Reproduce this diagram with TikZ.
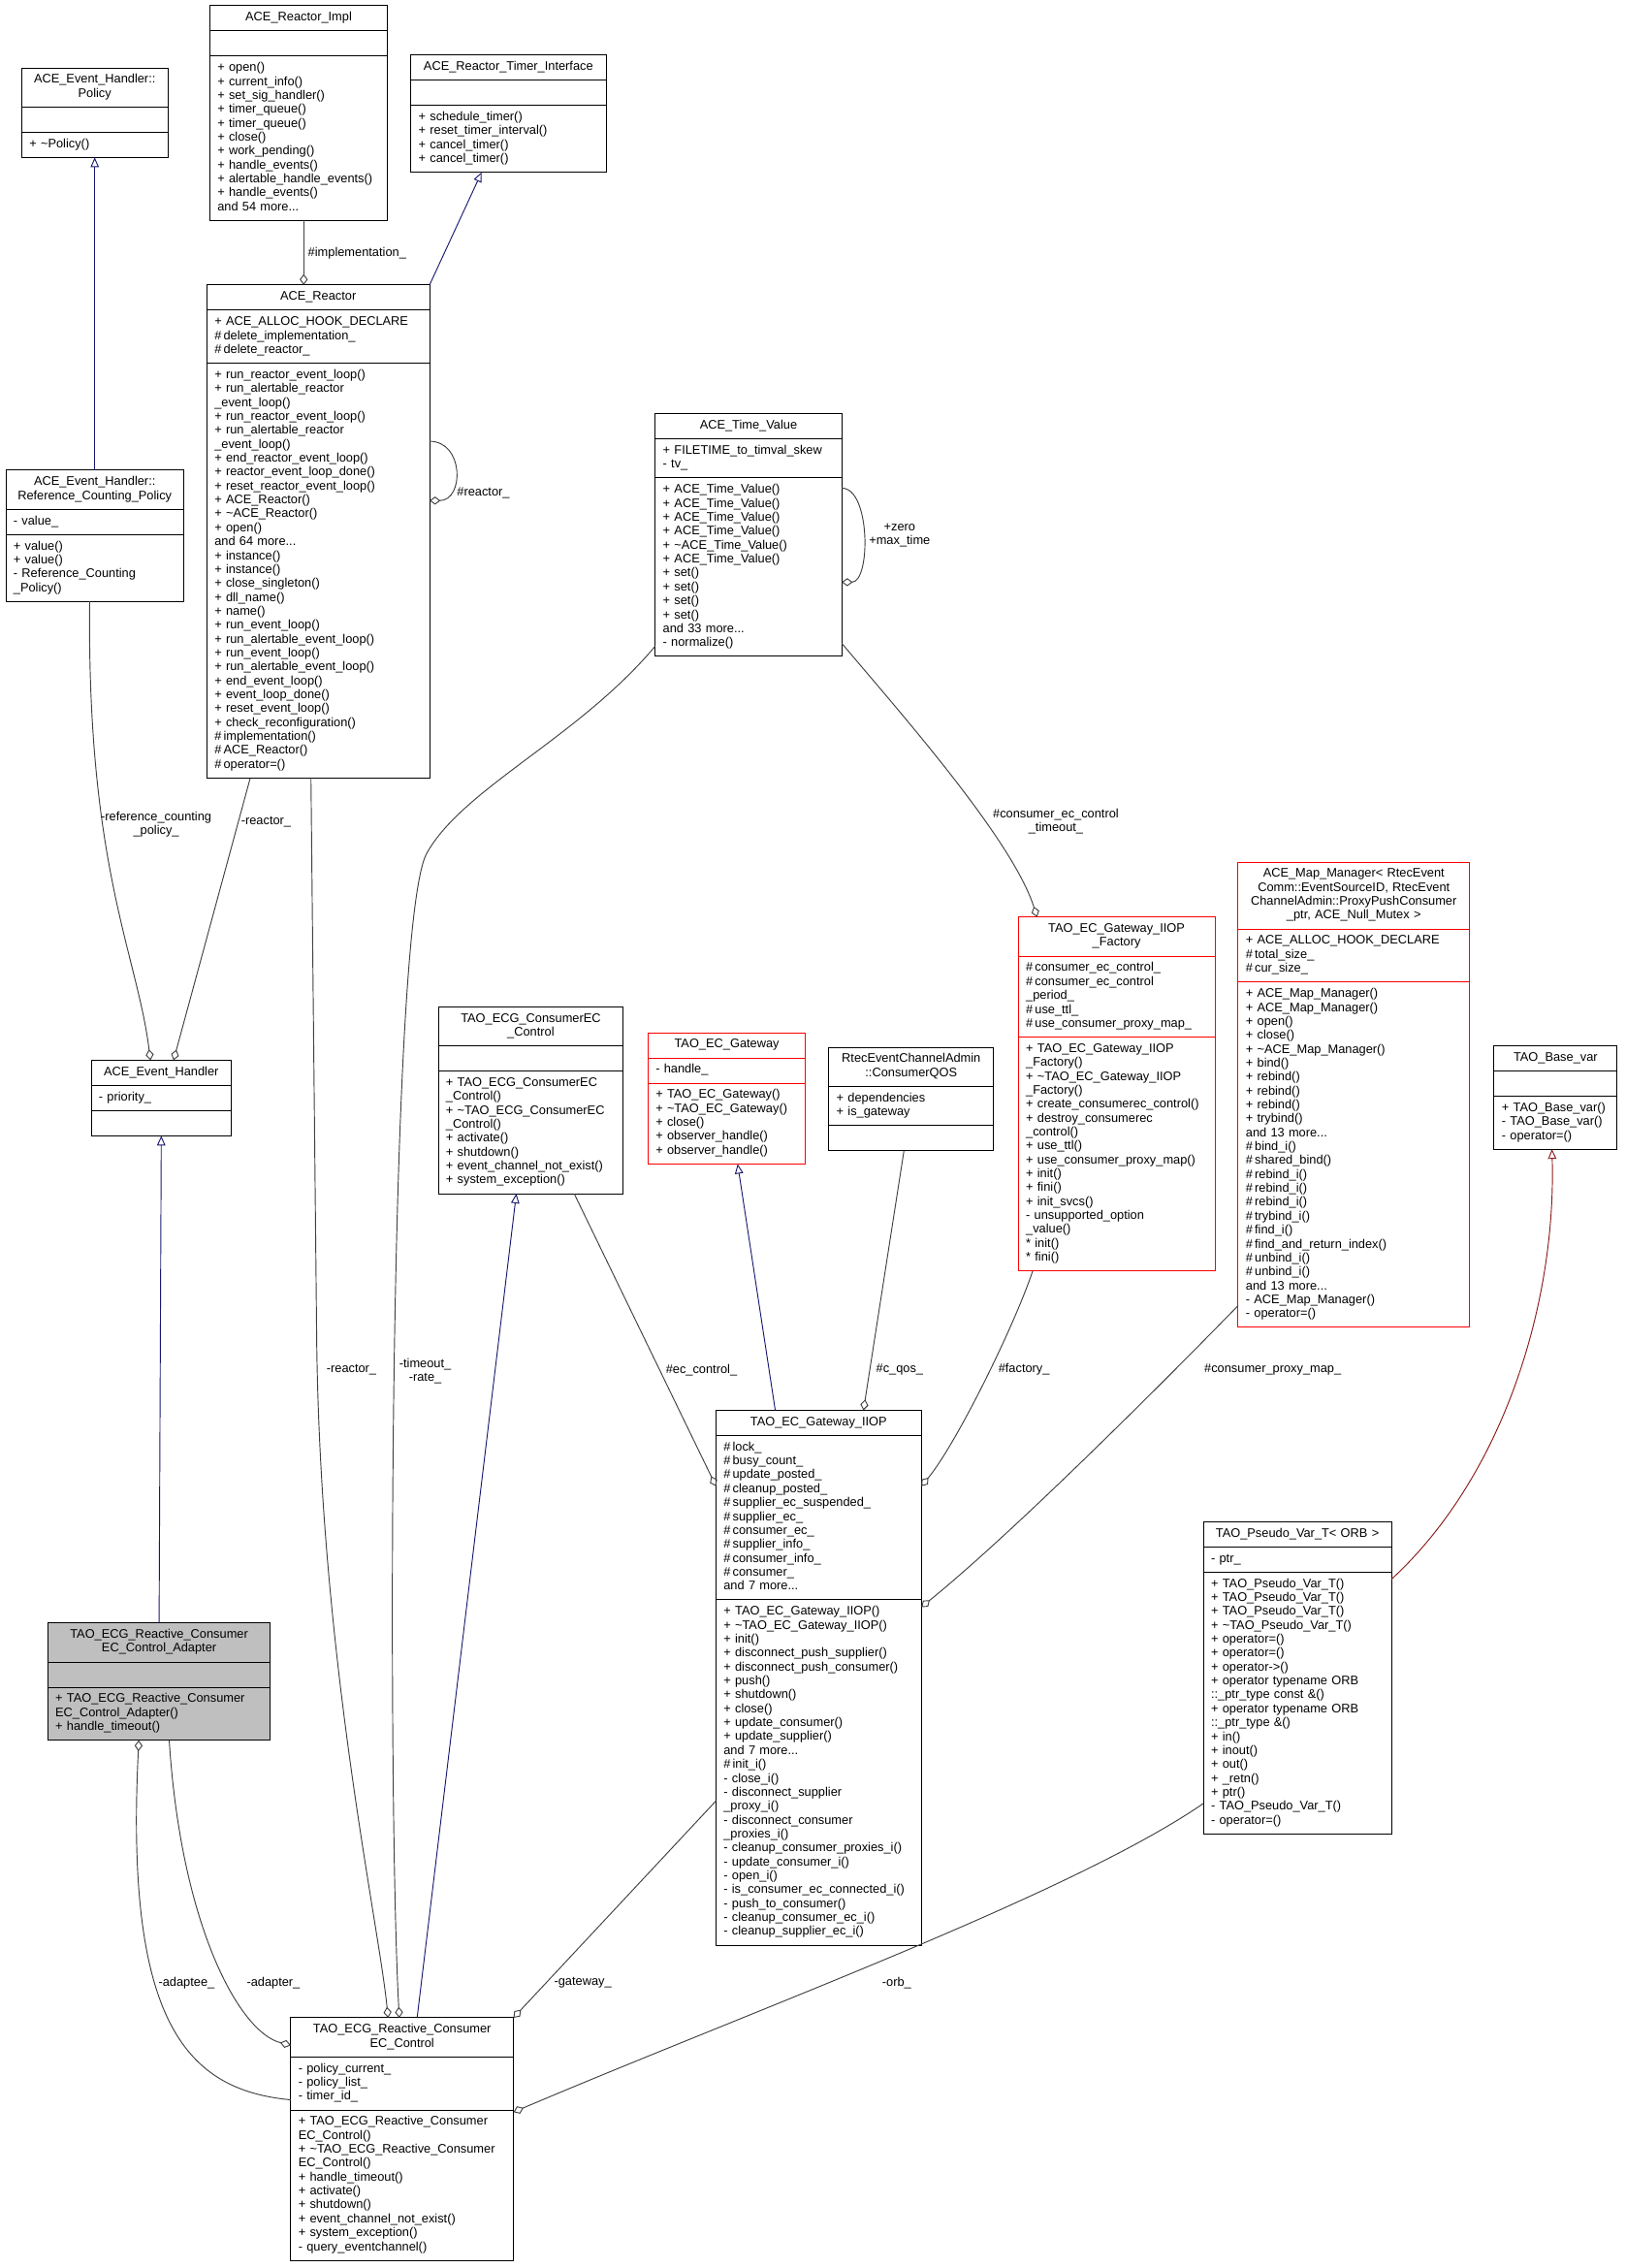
\documentclass[tikz,border=0pt]{standalone}
\usepackage{fontspec}
\setmainfont{Liberation Sans}
\usetikzlibrary{arrows.meta,positioning,calc}
\definecolor{HierBlue}{HTML}{191970}
\definecolor{HierRed}{HTML}{8B1A1A}
\definecolor{UseGray}{HTML}{404040}
\definecolor{BoxRed}{HTML}{FF0000}
\definecolor{AdapterGray}{HTML}{BFBFBF}

\begin{document}
\begin{tikzpicture}[
  x=0.45mm, y=-0.45mm,
  every node/.style={font=\fontsize{11}{12.32}\selectfont, inner sep=0pt, outer sep=0pt},
  cname/.style={draw, line width=0.8pt, fill=white, align=center,
    inner xsep=2.4mm, inner ysep=1.755mm,
    execute at begin node=\strut, execute at end node=\strut},
  cbody/.style={cname, align=left},
  hot/.style={draw=BoxRed},
  hier/.style={-{Triangle[open,length=3mm,width=2.6mm]}, line width=0.8pt, draw=HierBlue},
  uses/.style={-{Diamond[open,length=3.4mm,width=2.5mm]}, line width=0.8pt, draw=UseGray},
  tag/.style={align=center}
]
  \useasboundingbox[fill=white] (0,0) rectangle (1124,1568);

  % top row
  \node[cname, text width=40.65mm, anchor=north] (policy) at (65.5,47) {ACE\_Event\_Handler::\\Policy};
  \node[cbody, text width=40.65mm, below=0pt of policy] (policy-a) {};
  \node[cbody, text width=40.65mm, below=0pt of policy-a] (policy-m) {+ \textasciitilde Policy()};

  \node[cname, text width=50.55mm, anchor=north] (impl) at (206.5,4) {ACE\_Reactor\_Impl};
  \node[cbody, text width=50.55mm, below=0pt of impl] (impl-a) {};
  \node[cbody, text width=50.55mm, below=0pt of impl-a] (impl-m) {+ open()\\+ current\_info()\\+ set\_sig\_handler()\\+ timer\_queue()\\+ timer\_queue()\\+ close()\\+ work\_pending()\\+ handle\_events()\\+ alertable\_handle\_events()\\+ handle\_events()\\and 54 more...};

  \node[cname, text width=55.95mm, anchor=north] (timer) at (351.5,38) {ACE\_Reactor\_Timer\_Interface};
  \node[cbody, text width=55.95mm, below=0pt of timer] (timer-a) {};
  \node[cbody, text width=55.95mm, below=0pt of timer-a] (timer-m) {+ schedule\_timer()\\+ reset\_timer\_interval()\\+ cancel\_timer()\\+ cancel\_timer()};

  \node[cname, text width=64.5mm, anchor=north] (reactor) at (220,197) {ACE\_Reactor};
  \node[cbody, text width=64.5mm, below=0pt of reactor] (reactor-a) {+ ACE\_ALLOC\_HOOK\_DECLARE\\\#\,delete\_implementation\_\\\#\,delete\_reactor\_};
  \node[cbody, text width=64.5mm, below=0pt of reactor-a] (reactor-m) {+ run\_reactor\_event\_loop()\\+ run\_alertable\_reactor\\\_event\_loop()\\+ run\_reactor\_event\_loop()\\+ run\_alertable\_reactor\\\_event\_loop()\\+ end\_reactor\_event\_loop()\\+ reactor\_event\_loop\_done()\\+ reset\_reactor\_event\_loop()\\+ ACE\_Reactor()\\+ \textasciitilde ACE\_Reactor()\\+ open()\\and 64 more...\\+ instance()\\+ instance()\\+ close\_singleton()\\+ dll\_name()\\+ name()\\+ run\_event\_loop()\\+ run\_alertable\_event\_loop()\\+ run\_event\_loop()\\+ run\_alertable\_event\_loop()\\+ end\_event\_loop()\\+ event\_loop\_done()\\+ reset\_event\_loop()\\+ check\_reconfiguration()\\\#\,implementation()\\\#\,ACE\_Reactor()\\\#\,operator=()};

  \node[cname, text width=50.55mm, anchor=north] (refc) at (65.5,325) {ACE\_Event\_Handler::\\Reference\_Counting\_Policy};
  \node[cbody, text width=50.55mm, below=0pt of refc] (refc-a) {- value\_};
  \node[cbody, text width=50.55mm, below=0pt of refc-a] (refc-m) {+ value()\\+ value()\\- Reference\_Counting\\\_Policy()};

  \node[cname, text width=53.25mm, anchor=north] (tval) at (517.5,286) {ACE\_Time\_Value};
  \node[cbody, text width=53.25mm, below=0pt of tval] (tval-a) {+ FILETIME\_to\_timval\_skew\\- tv\_};
  \node[cbody, text width=53.25mm, below=0pt of tval-a] (tval-m) {+ ACE\_Time\_Value()\\+ ACE\_Time\_Value()\\+ ACE\_Time\_Value()\\+ ACE\_Time\_Value()\\+ \textasciitilde ACE\_Time\_Value()\\+ ACE\_Time\_Value()\\+ set()\\+ set()\\+ set()\\+ set()\\and 33 more...\\- normalize()};

  % middle row
  \node[cname, text width=38.85mm, anchor=north] (evh) at (111.5,733) {ACE\_Event\_Handler};
  \node[cbody, text width=38.85mm, below=0pt of evh] (evh-a) {- priority\_};
  \node[cbody, text width=38.85mm, below=0pt of evh-a] (evh-m) {};

  \node[cname, text width=52.8mm, anchor=north] (cec) at (367,696) {TAO\_ECG\_ConsumerEC\\\_Control};
  \node[cbody, text width=52.8mm, below=0pt of cec] (cec-a) {};
  \node[cbody, text width=52.8mm, below=0pt of cec-a] (cec-m) {+ TAO\_ECG\_ConsumerEC\\\_Control()\\+ \textasciitilde TAO\_ECG\_ConsumerEC\\\_Control()\\+ activate()\\+ shutdown()\\+ event\_channel\_not\_exist()\\+ system\_exception()};

  \node[cname, hot, text width=44.25mm, anchor=north] (ecgw) at (502.5,714) {TAO\_EC\_Gateway};
  \node[cbody, hot, text width=44.25mm, below=0pt of ecgw] (ecgw-a) {- handle\_};
  \node[cbody, hot, text width=44.25mm, below=0pt of ecgw-a] (ecgw-m) {+ TAO\_EC\_Gateway()\\+ \textasciitilde TAO\_EC\_Gateway()\\+ close()\\+ observer\_handle()\\+ observer\_handle()};

  \node[cname, text width=46.5mm, anchor=north] (qos) at (630,724) {RtecEventChannelAdmin\\::ConsumerQOS};
  \node[cbody, text width=46.5mm, below=0pt of qos] (qos-a) {+ dependencies\\+ is\_gateway};
  \node[cbody, text width=46.5mm, below=0pt of qos-a] (qos-m) {};

  \node[cname, hot, text width=56.4mm, anchor=north] (fac) at (772,634) {TAO\_EC\_Gateway\_IIOP\\\_Factory};
  \node[cbody, hot, text width=56.4mm, below=0pt of fac] (fac-a) {\#\,consumer\_ec\_control\_\\\#\,consumer\_ec\_control\\\_period\_\\\#\,use\_ttl\_\\\#\,use\_consumer\_proxy\_map\_};
  \node[cbody, hot, text width=56.4mm, below=0pt of fac-a] (fac-m) {+ TAO\_EC\_Gateway\_IIOP\\\_Factory()\\+ \textasciitilde TAO\_EC\_Gateway\_IIOP\\\_Factory()\\+ create\_consumerec\_control()\\+ destroy\_consumerec\\\_control()\\+ use\_ttl()\\+ use\_consumer\_proxy\_map()\\+ init()\\+ fini()\\+ init\_svcs()\\- unsupported\_option\\\_value()\\{}* init()\\{}* fini()};

  \node[cname, hot, text width=67.2mm, anchor=north] (mapmgr) at (936,596) {ACE\_Map\_Manager< RtecEvent\\Comm::EventSourceID, RtecEvent\\ChannelAdmin::ProxyPushConsumer\\\_ptr, ACE\_Null\_Mutex >};
  \node[cbody, hot, text width=67.2mm, below=0pt of mapmgr] (mapmgr-a) {+ ACE\_ALLOC\_HOOK\_DECLARE\\\#\,total\_size\_\\\#\,cur\_size\_};
  \node[cbody, hot, text width=67.2mm, below=0pt of mapmgr-a] (mapmgr-m) {+ ACE\_Map\_Manager()\\+ ACE\_Map\_Manager()\\+ open()\\+ close()\\+ \textasciitilde ACE\_Map\_Manager()\\+ bind()\\+ rebind()\\+ rebind()\\+ rebind()\\+ trybind()\\and 13 more...\\\#\,bind\_i()\\\#\,shared\_bind()\\\#\,rebind\_i()\\\#\,rebind\_i()\\\#\,rebind\_i()\\\#\,trybind\_i()\\\#\,find\_i()\\\#\,find\_and\_return\_index()\\\#\,unbind\_i()\\\#\,unbind\_i()\\and 13 more...\\- ACE\_Map\_Manager()\\- operator=()};

  \node[cname, text width=33.45mm, anchor=north] (basevar) at (1075.5,723) {TAO\_Base\_var};
  \node[cbody, text width=33.45mm, below=0pt of basevar] (basevar-a) {};
  \node[cbody, text width=33.45mm, below=0pt of basevar-a] (basevar-m) {+ TAO\_Base\_var()\\- TAO\_Base\_var()\\- operator=()};

  % lower row
  \node[cname, text width=59.1mm, anchor=north] (iiop) at (566,975) {TAO\_EC\_Gateway\_IIOP};
  \node[cbody, text width=59.1mm, below=0pt of iiop] (iiop-a) {\#\,lock\_\\\#\,busy\_count\_\\\#\,update\_posted\_\\\#\,cleanup\_posted\_\\\#\,supplier\_ec\_suspended\_\\\#\,supplier\_ec\_\\\#\,consumer\_ec\_\\\#\,supplier\_info\_\\\#\,consumer\_info\_\\\#\,consumer\_\\and 7 more...};
  \node[cbody, text width=59.1mm, below=0pt of iiop-a] (iiop-m) {+ TAO\_EC\_Gateway\_IIOP()\\+ \textasciitilde TAO\_EC\_Gateway\_IIOP()\\+ init()\\+ disconnect\_push\_supplier()\\+ disconnect\_push\_consumer()\\+ push()\\+ shutdown()\\+ close()\\+ update\_consumer()\\+ update\_supplier()\\and 7 more...\\\#\,init\_i()\\- close\_i()\\- disconnect\_supplier\\\_proxy\_i()\\- disconnect\_consumer\\\_proxies\_i()\\- cleanup\_consumer\_proxies\_i()\\- update\_consumer\_i()\\- open\_i()\\- is\_consumer\_ec\_connected\_i()\\- push\_to\_consumer()\\- cleanup\_consumer\_ec\_i()\\- cleanup\_supplier\_ec\_i()};

  \node[cname, text width=53.7mm, anchor=north] (pvar) at (897,1052) {TAO\_Pseudo\_Var\_T< ORB >};
  \node[cbody, text width=53.7mm, below=0pt of pvar] (pvar-a) {- ptr\_};
  \node[cbody, text width=53.7mm, below=0pt of pvar-a] (pvar-m) {+ TAO\_Pseudo\_Var\_T()\\+ TAO\_Pseudo\_Var\_T()\\+ TAO\_Pseudo\_Var\_T()\\+ \textasciitilde TAO\_Pseudo\_Var\_T()\\+ operator=()\\+ operator=()\\+ operator->()\\+ operator typename ORB\\::\_ptr\_type const \&()\\+ operator typename ORB\\::\_ptr\_type \&()\\+ in()\\+ inout()\\+ out()\\+ \_retn()\\+ ptr()\\- TAO\_Pseudo\_Var\_T()\\- operator=()};

  \node[cname, fill=AdapterGray, text width=64.5mm, anchor=north] (adapter) at (110,1122) {TAO\_ECG\_Reactive\_Consumer\\EC\_Control\_Adapter};
  \node[cbody, fill=AdapterGray, text width=64.5mm, below=0pt of adapter] (adapter-a) {};
  \node[cbody, fill=AdapterGray, text width=64.5mm, below=0pt of adapter-a] (adapter-m) {+ TAO\_ECG\_Reactive\_Consumer\\EC\_Control\_Adapter()\\+ handle\_timeout()};

  \node[cname, text width=64.5mm, anchor=north] (reactive) at (278,1395) {TAO\_ECG\_Reactive\_Consumer\\EC\_Control};
  \node[cbody, text width=64.5mm, below=0pt of reactive] (reactive-a) {- policy\_current\_\\- policy\_list\_\\- timer\_id\_};
  \node[cbody, text width=64.5mm, below=0pt of reactive-a] (reactive-m) {+ TAO\_ECG\_Reactive\_Consumer\\EC\_Control()\\+ \textasciitilde TAO\_ECG\_Reactive\_Consumer\\EC\_Control()\\+ handle\_timeout()\\+ activate()\\+ shutdown()\\+ event\_channel\_not\_exist()\\+ system\_exception()\\- query\_eventchannel()};

  % inheritance
  \draw[hier] (refc.north) -- (policy-m.south);
  \draw[hier] (reactor.north east) -- ($(timer-m.south)+(-18.5,0)$);
  \draw[hier] (adapter.north) -- (evh-m.south);
  \draw[hier] ($(reactive.north)+(10.4,0)$) -- ($(cec-m.south)+(-10,0)$);
  \draw[hier] ($(iiop.north)+(-30,0)$) -- ($(ecgw-m.south)+(7.5,0)$);
  \draw[hier, draw=HierRed] ($(pvar-m.north east)+(0,5)$)
    .. controls (1040,1020) and (1076,900) .. ($(basevar-m.south)+(-2.5,0)$);

  % members
  \draw[uses] ($(impl-m.south)+(3.5,0)$) -- ($(reactor.north)+(-10,0)$);
  \node[anchor=west] (lbl-impl) at (213,175) {\#implementation\_};
  \draw[uses] ($(reactor-m.north east)+(0,54)$)
    .. controls ($(reactor-m.north east)+(24,54)$) and ($(reactor-m.north east)+(24,95)$)
    .. ($(reactor-m.north east)+(0,95)$);
  \node[anchor=west] (lbl-reactor-self) at (316,341) {\#reactor\_};

  \draw[uses] ($(refc-m.south)+(-3.5,0)$)
    .. controls (60,600) and (95,660) .. ($(evh.north)+(-7.5,0)$);
  \node[tag] (lbl-refc) at (108,570) {-reference\_counting\\\_policy\_};
  \draw[uses] ($(reactor-m.south)+(-47,0)$) -- ($(evh.north)+(8.5,0)$);
  \node[tag] (lbl-reactor-evh) at (184,568) {-reactor\_};

  \draw[uses] ($(reactor-m.south)+(-5,0)$) -- (219,930)
    .. controls (222,1150) and (262,1330) .. ($(reactive.north)+(-9.7,0)$);
  \node[tag] (lbl-reactor-re) at (243,947) {-reactor\_};
  \draw[uses] ($(tval-m.south west)+(0,-7)$)
    .. controls (400,510) and (320,545) .. (295,590)
    .. controls (268,640) and (268,1250) .. ($(reactive.north)+(-1.9,0)$);
  \node[tag] (lbl-timeout) at (294,948) {-timeout\_\\-rate\_};

  \draw[uses] ($(tval-m.north east)+(0,7)$)
    .. controls ($(tval-m.north east)+(20,7)$) and ($(tval-m.north east)+(20,72)$)
    .. ($(tval-m.north east)+(0,72)$);
  \node[tag] (lbl-zero) at (622,370) {+zero\\+max\_time};
  \draw[uses] ($(tval-m.south east)+(0,-9)$)
    .. controls (620,490) and (700,580) .. ($(fac.north)+(-55,0)$);
  \node[tag] (lbl-ectimeout) at (730,568) {\#consumer\_ec\_control\\\_timeout\_};

  \draw[uses] ($(cec-m.south)+(30,0)$) -- ($(iiop-a.north west)+(0,35)$);
  \node[tag] (lbl-eccontrol) at (485,947) {\#ec\_control\_};
  \draw[uses] ($(qos-m.south)+(-5,0)$) -- ($(iiop.north)+(31,0)$);
  \node[tag] (lbl-cqos) at (622,947) {\#c\_qos\_};
  \draw[uses] ($(fac-m.south)+(-58,0)$)
    .. controls (700,920) and (660,1000) .. ($(iiop-a.north east)+(0,35)$);
  \node[tag] (lbl-factory) at (708,947) {\#factory\_};
  \draw[uses] ($(mapmgr-m.south west)+(0,-15)$)
    .. controls (800,960) and (700,1060) .. ($(iiop-m.north east)+(0,5)$);
  \node[tag] (lbl-proxymap) at (880,947) {\#consumer\_proxy\_map\_};

  \draw[uses] ($(adapter-m.south)+(7,0)$)
    .. controls (125,1330) and (165,1405) .. ($(reactive.north west)+(0,19)$);
  \node[tag] (lbl-adapter) at (189,1371) {-adapter\_};
  \draw[uses] ($(reactive-a.south west)+(0,-7)$)
    .. controls (130,1445) and (86,1400) .. ($(adapter-m.south)+(-14,0)$);
  \node[tag] (lbl-adaptee) at (129,1371) {-adaptee\_};
  \draw[uses] ($(iiop-m.north west)+(0,139)$) -- (reactive.north east);
  \node[tag] (lbl-gateway) at (403,1371) {-gateway\_};
  \draw[uses] ($(pvar-m.south west)+(0,-21)$)
    .. controls (740,1310) and (520,1390) .. ($(reactive-m.north east)+(0,1.5)$);
  \node[tag] (lbl-orb) at (620,1371) {-orb\_};
\end{tikzpicture}
\end{document}
